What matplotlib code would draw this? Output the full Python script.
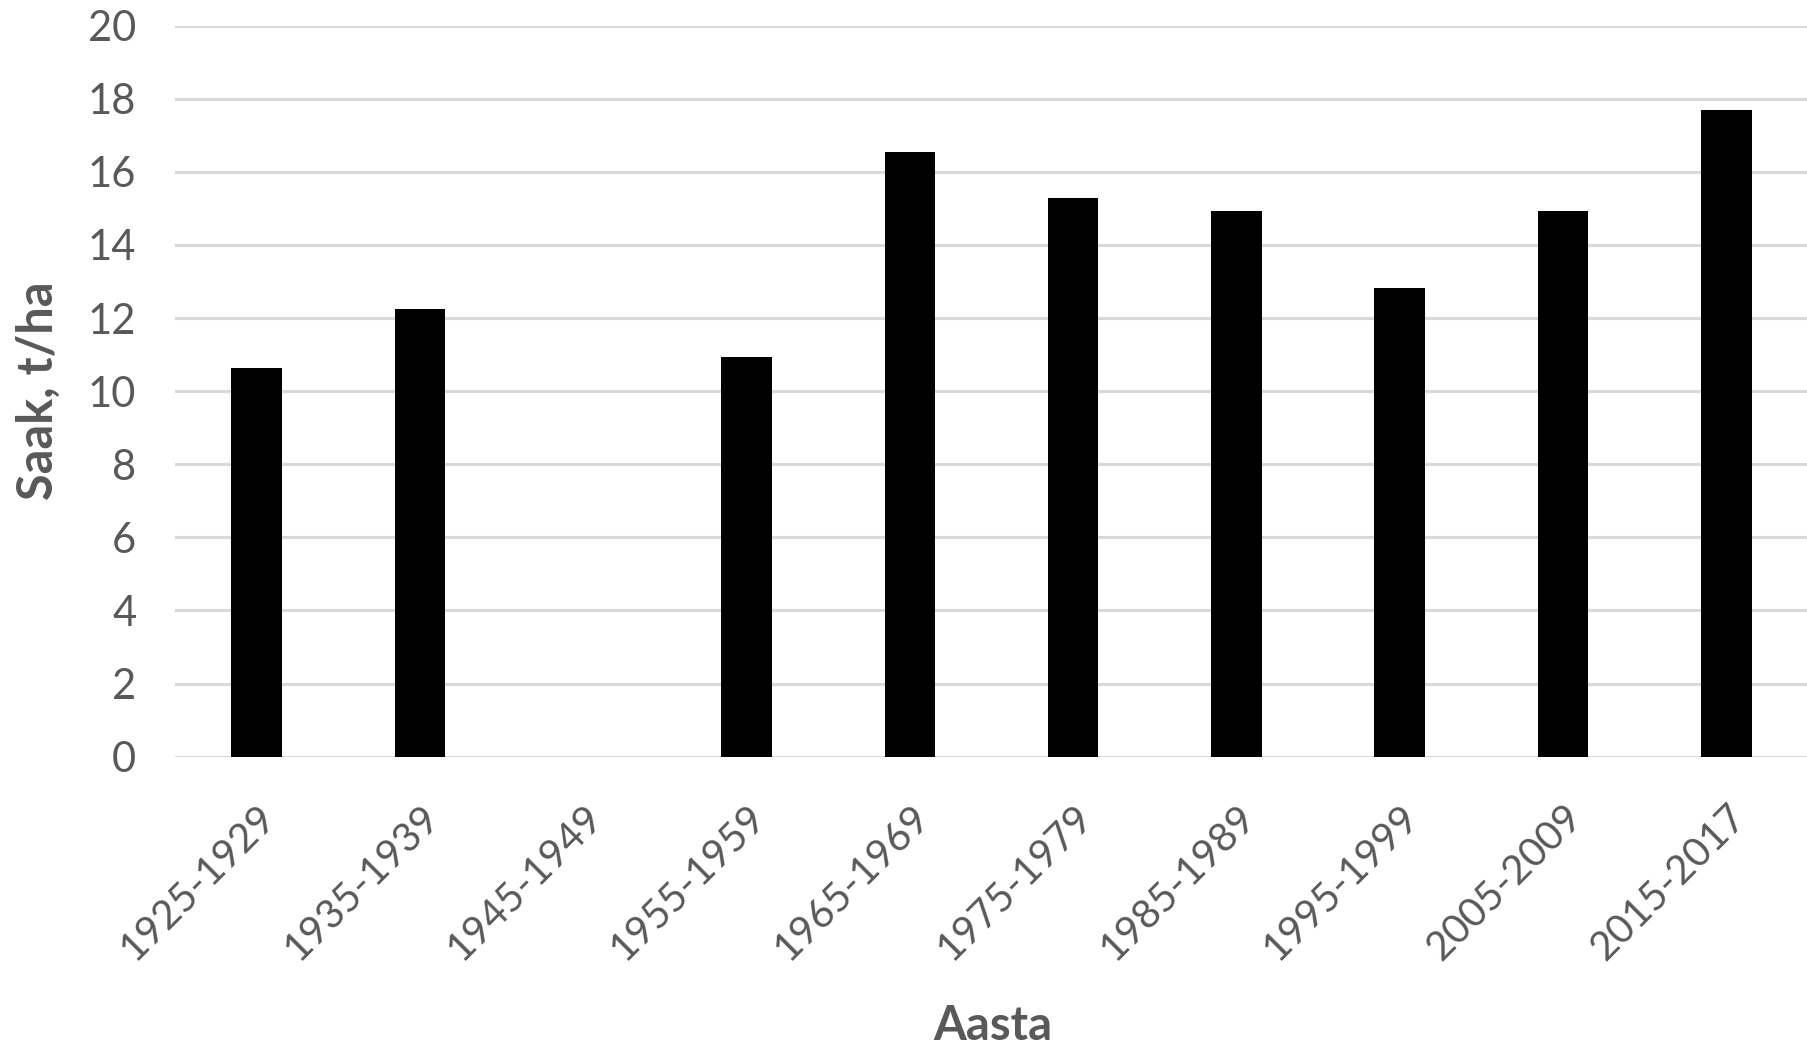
import matplotlib.pyplot as plt
import numpy as np

# yields per period (1945-1949 has no data)
periods = ['1925-1929', '1935-1939', '1945-1949', '1955-1959', '1965-1969',
           '1975-1979', '1985-1989', '1995-1999', '2005-2009', '2015-2017']
yields = [10.63, 12.24, np.nan, 10.93, 16.55, 15.29, 14.93, 12.82, 14.93, 17.68]
yticks = [0, 2, 4, 6, 8, 10, 12, 14, 16, 18, 20]

plt.rcParams['font.family'] = ['Lato', 'DejaVu Sans']
grey = '#595959'

fig = plt.figure(figsize=(18.08, 10.47), dpi=100)
ax = fig.add_axes([0.0968, 0.2773, 0.9032, 0.6982])

x = np.arange(len(periods))
ax.bar(x, yields, width=0.31, color='black', zorder=3)

ax.set_xlim(-0.5, len(periods) - 0.5)
ax.set_ylim(0, 20)
ax.set_yticks(yticks)
ax.yaxis.grid(True, color='#d9d9d9', linewidth=2.2, zorder=0)
ax.set_axisbelow(True)
for s in ax.spines.values():
    s.set_visible(False)
ax.tick_params(axis='both', length=0, labelcolor=grey, labelsize=30)
ax.tick_params(axis='y', pad=28)

ax.set_xticks(x)
ax.set_xticklabels(periods, rotation=45, ha='right', rotation_mode='anchor')
ax.tick_params(axis='x', labelsize=29, pad=30)

fig.text(0.021, 0.627, 'Saak, t/ha', fontsize=35, fontweight='bold', color=grey,
         rotation=90, ha='center', va='center')
fig.text(0.549, 0.02, 'Aasta', fontsize=34, fontweight='bold', color=grey,
         ha='center', va='center')

plt.savefig('out.png', dpi=100)
